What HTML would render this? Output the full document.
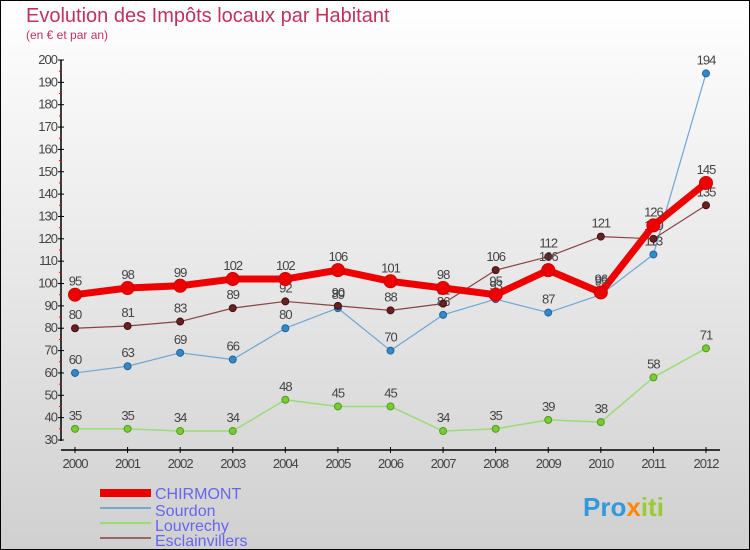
<!DOCTYPE html>
<html><head><meta charset="utf-8"><style>
body{margin:0}
#c{width:750px;height:550px;position:relative;overflow:hidden;font-family:"Liberation Sans",sans-serif}
</style></head><body>
<div id="c">
<svg width="750" height="550" xmlns="http://www.w3.org/2000/svg" id="svg">
<defs><linearGradient id="bg" x1="0" y1="0" x2="0" y2="1"><stop offset="0" stop-color="#ffffff"/><stop offset="1" stop-color="#d0d0d0"/></linearGradient></defs>
<rect x="0.5" y="0.5" width="749" height="549" fill="url(#bg)" stroke="#000"/>
<text x="26" y="22" font-size="20" fill="#c0325a" font-weight="normal">Evolution des Impôts locaux par Habitant</text>
<text x="26" y="39" font-size="12" fill="#c0325a">(en € et par an)</text>
<g id="axes"></g><g id="plot"></g>
<g>
<rect x="100" y="489" width="51" height="8" fill="#e00"/>
<text x="155" y="499" font-size="16" fill="#6666ee">CHIRMONT</text>
<line x1="100" y1="508" x2="151" y2="508" stroke="#7aa7cc" stroke-width="2"/>
<text x="155" y="516" font-size="16" fill="#6666ee">Sourdon</text>
<line x1="100" y1="523" x2="151" y2="523" stroke="#99dd77" stroke-width="2"/>
<text x="155" y="531" font-size="16" fill="#6666ee">Louvrechy</text>
<line x1="100" y1="538" x2="151" y2="538" stroke="#996666" stroke-width="2"/>
<text x="155" y="546" font-size="16" fill="#6666ee">Esclainvillers</text>
</g>
<text x="583" y="516" font-size="26" font-weight="bold" fill="#3399dd">Pro<tspan fill="#ff8800">x</tspan><tspan fill="#99cc33">iti</tspan></text>
</svg></div>
<script>
const years=["2000","2001","2002","2003","2004","2005","2006","2007","2008","2009","2010","2011","2012"];
const chirmont=[95,98,99,102,102,106,101,98,95,106,96,126,145];
const sourdon=[60,63,69,66,80,89,70,86,93,87,95,113,194];
const louvrechy=[35,35,34,34,48,45,45,34,35,39,38,58,71];
const esclainvillers=[80,81,83,89,92,90,88,91,106,112,121,120,135];
const yTicks=[30,40,50,60,70,80,90,100,110,120,130,140,150,160,170,180,190,200];
const NS="http://www.w3.org/2000/svg";
const X=i=>75+i*(706-75)/12;
const Y=v=>440-(v-30)*(380/170);
function mk(p,t,a){const e=document.createElementNS(NS,t);for(const k in a)e.setAttribute(k,a[k]);p.appendChild(e);return e;}
const ax=document.getElementById('axes'),pl=document.getElementById('plot');
const ya=mk(ax,'line',{x1:61,y1:60,x2:61,y2:441,stroke:'#000','stroke-width':1.5});


const xa=mk(ax,'line',{x1:61,y1:450,x2:720,y2:450,stroke:'#000','stroke-width':1.5});


yTicks.forEach(v=>{const y=Y(v);mk(ax,'line',{x1:58,y1:y,x2:64,y2:y,stroke:'#000'});
if(v<200)mk(ax,'line',{x1:59,y1:Y(v+5),x2:62,y2:Y(v+5),stroke:'#e00'});
const t=mk(ax,'text',{x:57,y:y+4,'font-size':13,'text-anchor':'end',fill:'#444','letter-spacing':'-1'});t.textContent=v;

});
years.forEach((yr,i)=>{const x=X(i);mk(ax,'line',{x1:x,y1:447,x2:x,y2:453,stroke:'#000'});
const t=mk(ax,'text',{x:x,y:468,'font-size':13,'text-anchor':'middle',fill:'#444','letter-spacing':'-1'});t.textContent=yr;

});
function series(d,name,color,w,r,dot,dotStroke){const g=mk(pl,'g',{});


mk(g,'polyline',{points:d.map((v,i)=>X(i)+','+Y(v)).join(' '),fill:'none',stroke:color,'stroke-width':w,'stroke-linejoin':'round'});
d.forEach((v,i)=>{const c=mk(g,'circle',{cx:X(i),cy:Y(v),r:r,fill:dot,stroke:dotStroke,'stroke-width':1});


const t=mk(g,'text',{x:X(i),y:Y(v)-9,'font-size':13,'text-anchor':'middle',fill:'#444','letter-spacing':'-1'});t.textContent=v;

});}
series(louvrechy,'louvrechy','#99dd77',1.5,3.5,'#77cc33','#559922');
series(sourdon,'sourdon','#6fa6d6',1.2,3.5,'#3388cc','#226699');
series(esclainvillers,'esclainvillers','#884444',1.2,3.5,'#662222','#441111');
series(chirmont,'chirmont','#ee0000',7,6.5,'#ee0000','#cc0000');
</script>
</body></html>
